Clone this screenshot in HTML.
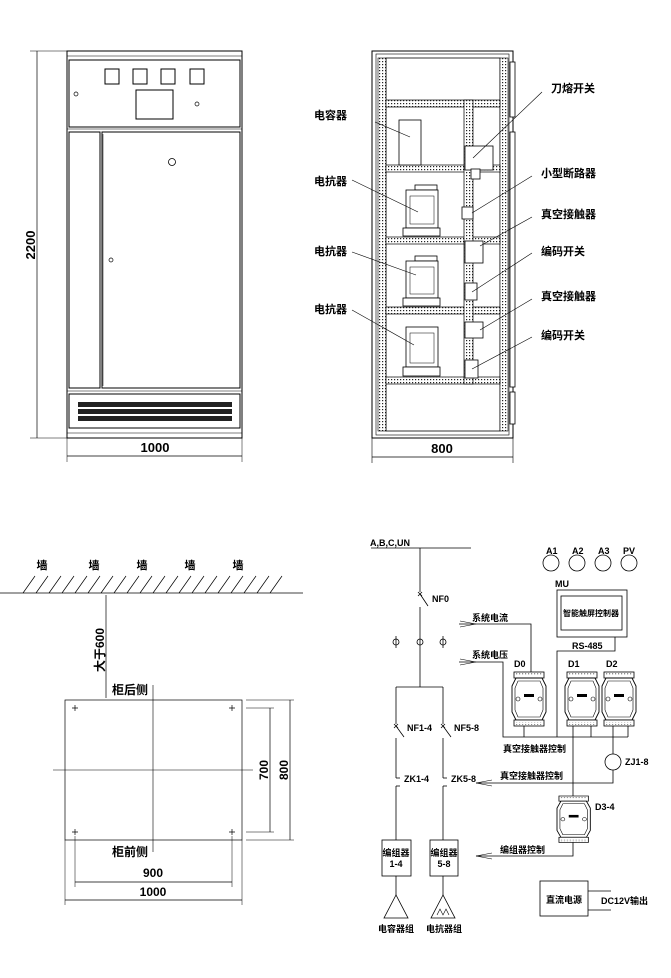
<!DOCTYPE html>
<html><head><meta charset="utf-8"><style>
html,body{margin:0;padding:0;background:#fff;}
svg{display:block;}
text{font-family:"Liberation Sans","Noto Sans CJK SC",sans-serif;fill:#000;}
</style></head><body>
<svg width="671" height="978" viewBox="0 0 671 978" xmlns="http://www.w3.org/2000/svg">
<defs>
<pattern id="perf" width="3" height="3" patternUnits="userSpaceOnUse"><rect width="3" height="3" fill="#fff"/><rect x="1" y="1" width="1.2" height="1.2" fill="#222"/></pattern>
<marker id="ar" markerWidth="8" markerHeight="6" refX="8" refY="3" orient="auto" markerUnits="userSpaceOnUse"><path d="M0,0 L8,3 L0,6" fill="none" stroke="#000" stroke-width="0.8"/></marker>
<g id="mod">
<rect x="2" y="0" width="30" height="6" fill="#fff" stroke="#000" stroke-width="0.8"/>
<rect x="3" y="1.5" width="28" height="2.5" fill="url(#perf)"/>
<path d="M4,6 L30,6 L34,14 L34,40 L30,48 L4,48 L0,40 L0,14 Z" fill="#fff" stroke="#000" stroke-width="0.9"/>
<path d="M6,9 L28,9 L31,16 L31,38 L28,45 L6,45 L3,38 L3,16 Z" fill="none" stroke="#000" stroke-width="0.6"/>
<rect x="12" y="22" width="10" height="3" fill="#000"/>
<circle cx="6" cy="27" r="2" fill="none" stroke="#000" stroke-width="0.6"/>
<circle cx="28" cy="27" r="2" fill="none" stroke="#000" stroke-width="0.6"/>
<rect x="2" y="48" width="30" height="6" fill="#fff" stroke="#000" stroke-width="0.8"/>
<rect x="3" y="50" width="28" height="2.5" fill="url(#perf)"/>
</g>
</defs>
<g fill="none" stroke="#000" stroke-width="1">
<!-- FRONT VIEW -->
<rect x="67" y="51" width="175" height="387"/>
<rect x="69" y="60" width="171" height="67"/>
<line x1="67" y1="56" x2="242" y2="56" stroke-width="0.6"/>
<line x1="67" y1="129" x2="242" y2="129" stroke-width="0.6"/>
<rect x="69" y="132" width="31" height="256"/>
<rect x="102" y="132" width="138" height="256"/>
<line x1="103" y1="134" x2="103" y2="386" stroke-width="0.5"/>
<line x1="67" y1="391" x2="242" y2="391" stroke-width="0.6"/>
<rect x="69" y="394" width="171" height="34"/>
<line x1="67" y1="433" x2="242" y2="433" stroke-width="0.6"/>
<rect x="105" y="69" width="14" height="15"/><rect x="133" y="69" width="14" height="15"/>
<rect x="161" y="69" width="14" height="15"/><rect x="190" y="69" width="14" height="15"/>
<rect x="136" y="90" width="37" height="29"/>
<circle cx="76" cy="94" r="2" stroke-width="0.7"/>
<circle cx="197" cy="104" r="2" stroke-width="0.7"/>
<circle cx="172" cy="162" r="3.5" stroke-width="0.8"/>
<circle cx="111" cy="260" r="2" stroke-width="0.7"/>
<line x1="37" y1="51" x2="37" y2="438" stroke-width="0.7"/>
<line x1="30" y1="51" x2="67" y2="51" stroke-width="0.5"/>
<line x1="30" y1="438" x2="67" y2="438" stroke-width="0.5"/>
<line x1="67" y1="456" x2="242" y2="456" stroke-width="0.7"/>
<line x1="67" y1="438" x2="67" y2="462" stroke-width="0.5"/>
<line x1="242" y1="438" x2="242" y2="462" stroke-width="0.5"/>
</g>
<g fill="#222">
<rect x="78" y="402" width="154" height="5"/><rect x="78" y="409" width="154" height="5"/><rect x="78" y="416" width="154" height="5"/>
</g>
<text x="35" y="245" font-size="13" font-weight="bold" transform="rotate(-90 35 245)" text-anchor="middle">2200</text>
<text x="155" y="452" font-size="13" font-weight="bold" text-anchor="middle">1000</text>

<!-- INTERIOR VIEW -->
<g fill="none" stroke="#000" stroke-width="1">
<rect x="372" y="51" width="141" height="387"/>
<rect x="376" y="54" width="133" height="381" stroke-width="0.6"/>
<rect x="386" y="58" width="114" height="373" stroke-width="0.8"/>
</g>
<rect x="378" y="58" width="8" height="373" fill="url(#perf)" stroke="#000" stroke-width="0.6"/>
<rect x="500" y="58" width="8" height="373" fill="url(#perf)" stroke="#000" stroke-width="0.6"/>
<g stroke="#000" stroke-width="0.7">
<rect x="386" y="100" width="114" height="7" fill="url(#perf)"/>
<rect x="386" y="165" width="114" height="7" fill="url(#perf)"/>
<rect x="386" y="237" width="114" height="7" fill="url(#perf)"/>
<rect x="386" y="307" width="114" height="7" fill="url(#perf)"/>
<rect x="386" y="377" width="114" height="7" fill="url(#perf)"/>
<rect x="464" y="100" width="9" height="284" fill="url(#perf)"/>
</g>
<g fill="#fff" stroke="#000" stroke-width="0.8">
<rect x="510" y="62" width="5" height="55"/><rect x="510" y="132" width="5" height="255"/><rect x="510" y="392" width="5" height="32"/>
<rect x="399" y="120" width="22" height="45"/>
<rect x="465" y="146" width="28" height="24"/>
<rect x="471" y="169" width="9" height="10"/>
<g id="reac">
<rect x="415" y="185" width="22" height="5"/>
<rect x="406" y="190" width="32" height="38"/>
<rect x="410" y="196" width="24" height="28" stroke-width="0.5"/>
<rect x="403" y="228" width="37" height="8"/>
</g>
<rect x="415" y="256" width="22" height="5"/><rect x="406" y="261" width="32" height="37"/><rect x="410" y="267" width="24" height="27" stroke-width="0.5"/><rect x="403" y="298" width="37" height="8"/>
<rect x="406" y="327" width="32" height="40"/><rect x="410" y="333" width="24" height="30" stroke-width="0.5"/><rect x="403" y="367" width="37" height="9"/>
<rect x="462" y="207" width="11" height="12"/>
<rect x="465" y="241" width="18" height="22"/>
<rect x="465" y="283" width="12" height="17"/>
<rect x="465" y="322" width="18" height="16"/>
<rect x="465" y="360" width="13" height="18"/>
</g>
<g stroke="#000" stroke-width="0.6">
<line x1="375" y1="122" x2="410" y2="137"/>
<line x1="352" y1="180" x2="418" y2="212"/>
<line x1="352" y1="252" x2="416" y2="275"/>
<line x1="352" y1="310" x2="414" y2="345"/>
<line x1="542" y1="92" x2="473" y2="158"/>
<line x1="532" y1="176" x2="472" y2="213"/>
<line x1="532" y1="217" x2="480" y2="246"/>
<line x1="532" y1="253" x2="472" y2="292"/>
<line x1="532" y1="299" x2="480" y2="330"/>
<line x1="532" y1="337" x2="472" y2="369"/>
<line x1="372" y1="457" x2="513" y2="457" stroke-width="0.7"/>
<line x1="372" y1="438" x2="372" y2="463"/><line x1="513" y1="438" x2="513" y2="463"/>
</g>
<g font-size="11" font-weight="bold">
<text x="314" y="119">电容器</text>
<text x="314" y="185">电抗器</text>
<text x="314" y="255">电抗器</text>
<text x="314" y="313">电抗器</text>
<text x="551" y="92">刀熔开关</text>
<text x="541" y="177">小型断路器</text>
<text x="541" y="218">真空接触器</text>
<text x="541" y="255">编码开关</text>
<text x="541" y="300">真空接触器</text>
<text x="541" y="339">编码开关</text>
</g>
<text x="442" y="453" font-size="13" font-weight="bold" text-anchor="middle">800</text>

<!-- LAYOUT PLAN -->
<g stroke="#000" fill="none">
<line x1="0" y1="593" x2="303" y2="593" stroke-width="0.8"/>
<path d="M23,593 l12,-17 M36,593 l12,-17 M49,593 l12,-17 M62,593 l12,-17 M75,593 l12,-17 M88,593 l12,-17 M101,593 l12,-17 M114,593 l12,-17 M127,593 l12,-17 M140,593 l12,-17 M153,593 l12,-17 M166,593 l12,-17 M179,593 l12,-17 M192,593 l12,-17 M205,593 l12,-17 M218,593 l12,-17 M231,593 l12,-17 M244,593 l12,-17 M257,593 l12,-17 M270,593 l12,-17" stroke-width="0.7"/>
<line x1="106" y1="595" x2="106" y2="698" stroke-width="0.7"/>
<rect x="65" y="700" width="177" height="140" stroke-width="0.7"/>
<line x1="153" y1="685" x2="153" y2="852" stroke-width="0.6"/>
<line x1="53" y1="770" x2="253" y2="770" stroke-width="0.6"/>
<path d="M72,708 h6 M75,705 v6 M229,708 h6 M232,705 v6 M72,832 h6 M75,829 v6 M229,832 h6 M232,829 v6" stroke-width="0.7"/>
<line x1="246" y1="708" x2="274" y2="708" stroke-width="0.5"/><line x1="246" y1="832" x2="274" y2="832" stroke-width="0.5"/>
<line x1="246" y1="700" x2="294" y2="700" stroke-width="0.5"/><line x1="246" y1="840" x2="294" y2="840" stroke-width="0.5"/>
<line x1="270" y1="708" x2="270" y2="832" stroke-width="0.7"/>
<line x1="290" y1="700" x2="290" y2="840" stroke-width="0.7"/>
<line x1="75" y1="836" x2="75" y2="887" stroke-width="0.5"/><line x1="232" y1="836" x2="232" y2="887" stroke-width="0.5"/>
<line x1="65" y1="840" x2="65" y2="905" stroke-width="0.5"/><line x1="242" y1="840" x2="242" y2="905" stroke-width="0.5"/>
<line x1="75" y1="882" x2="232" y2="882" stroke-width="0.7"/>
<line x1="65" y1="900" x2="242" y2="900" stroke-width="0.7"/>
</g>
<g font-size="11" font-weight="bold" text-anchor="middle">
<text x="42" y="569">墙</text><text x="94" y="569">墙</text><text x="142" y="569">墙</text><text x="190" y="569">墙</text><text x="238" y="569">墙</text>
</g>
<text x="104" y="650" font-size="12" font-weight="bold" text-anchor="middle" transform="rotate(-90 104 650)">大于600</text>
<text x="130" y="694" font-size="12" font-weight="bold" text-anchor="middle">柜后侧</text>
<text x="130" y="856" font-size="12" font-weight="bold" text-anchor="middle">柜前侧</text>
<text x="268" y="770" font-size="12" font-weight="bold" text-anchor="middle" transform="rotate(-90 268 770)">700</text>
<text x="288" y="770" font-size="12" font-weight="bold" text-anchor="middle" transform="rotate(-90 288 770)">800</text>
<text x="153" y="877" font-size="12" font-weight="bold" text-anchor="middle">900</text>
<text x="153" y="896" font-size="12" font-weight="bold" text-anchor="middle">1000</text>

<!-- SCHEMATIC -->
<g stroke="#000" fill="none" stroke-width="0.8">
<line x1="371" y1="548" x2="471" y2="548"/>
<line x1="420" y1="548" x2="420" y2="592"/>
<path d="M418,592 l4,4 M422,592 l-4,4"/>
<line x1="420" y1="594" x2="428" y2="606"/>
<line x1="420" y1="607" x2="420" y2="687"/>
<circle cx="396" cy="642" r="3"/><line x1="396" y1="636" x2="396" y2="648"/>
<circle cx="420" cy="642" r="3"/>
<circle cx="443" cy="642" r="3"/><line x1="443" y1="636" x2="443" y2="648"/>
<line x1="396" y1="687" x2="443" y2="687"/>
<line x1="396" y1="687" x2="396" y2="724"/><line x1="443" y1="687" x2="443" y2="724"/>
<path d="M394,724 l4,4 M398,724 l-4,4 M441,724 l4,4 M445,724 l-4,4"/>
<line x1="396" y1="726" x2="404" y2="737"/><line x1="443" y1="726" x2="451" y2="737"/>
<line x1="396" y1="738" x2="396" y2="778"/><line x1="443" y1="738" x2="443" y2="778"/>
<line x1="396" y1="778" x2="400" y2="778"/><line x1="443" y1="778" x2="447" y2="778"/>
<line x1="396" y1="786" x2="400" y2="786"/><line x1="443" y1="786" x2="447" y2="786"/>
<line x1="396" y1="786" x2="396" y2="840"/><line x1="443" y1="786" x2="443" y2="840"/>
<rect x="382" y="840" width="29" height="36"/>
<rect x="430" y="840" width="28" height="36"/>
<line x1="396" y1="876" x2="396" y2="895"/><line x1="443" y1="876" x2="443" y2="895"/>
<path d="M396,895 L384,918 L408,918 Z"/>
<path d="M443,895 L431,918 L455,918 Z"/>
<path d="M437,915 l3,-6 l3,6 l3,-6 l3,6" stroke-width="0.6"/>
<circle cx="551" cy="563" r="8"/><circle cx="577" cy="563" r="8"/><circle cx="603" cy="563" r="8"/><circle cx="629" cy="563" r="8"/>
<rect x="557" y="590" width="70" height="47"/>
<rect x="561" y="596" width="61" height="34"/>
<polyline points="615,637 615,651 557,651 557,737"/>
<polyline points="459,624 531,624 531,672"/>
<polyline points="459,662 503,662 503,737 628,737"/>
<line x1="524" y1="725" x2="524" y2="737"/>
<line x1="573" y1="725" x2="573" y2="796"/>
<line x1="591" y1="725" x2="591" y2="737"/>
<line x1="613" y1="725" x2="613" y2="754"/>
<line x1="628" y1="725" x2="628" y2="737"/>
<circle cx="613" cy="762" r="8"/>
<polyline points="613,770 613,783 476,783"/>
<polyline points="573,842 573,856 476,856"/>
<path d="M460,621 L476,624 L460,627 M460,659 L476,662 L460,665" stroke-width="0.6"/>
<path d="M492,780 L476,783 L492,786 M492,853 L476,856 L492,859" stroke-width="0.6"/>
<rect x="540" y="881" width="48" height="35"/>
<line x1="588" y1="891" x2="611" y2="891"/><line x1="588" y1="910" x2="611" y2="910"/>
</g>
<g transform="translate(512,672)"><use href="#mod"/></g>
<g transform="translate(565,672)"><use href="#mod"/></g>
<g transform="translate(602,672)"><use href="#mod"/></g>
<g transform="translate(557,796) scale(0.98,0.86)"><use href="#mod"/></g>
<g font-size="9" font-weight="bold">
<text x="370" y="546">A,B,C,UN</text>
<text x="432" y="602">NF0</text>
<text x="407" y="731">NF1-4</text>
<text x="454" y="731">NF5-8</text>
<text x="404" y="782">ZK1-4</text>
<text x="451" y="782">ZK5-8</text>
<text x="472" y="621">系统电流</text>
<text x="472" y="658">系统电压</text>
<text x="546" y="554">A1</text><text x="572" y="554">A2</text><text x="598" y="554">A3</text><text x="623" y="554">PV</text>
<text x="555" y="587">MU</text>
<text x="591" y="616" text-anchor="middle" font-size="8">智能触屏控制器</text>
<text x="572" y="649">RS-485</text>
<text x="514" y="667">D0</text><text x="568" y="667">D1</text><text x="606" y="667">D2</text>
<text x="503" y="752">真空接触器控制</text>
<text x="625" y="765">ZJ1-8</text>
<text x="500" y="779">真空接触器控制</text>
<text x="595" y="810">D3-4</text>
<text x="500" y="853">编组器控制</text>
<text x="396" y="856" text-anchor="middle">编组器</text><text x="396" y="867" text-anchor="middle">1-4</text>
<text x="444" y="856" text-anchor="middle">编组器</text><text x="444" y="867" text-anchor="middle">5-8</text>
<text x="396" y="932" text-anchor="middle">电容器组</text>
<text x="444" y="932" text-anchor="middle">电抗器组</text>
<text x="564" y="903" text-anchor="middle">直流电源</text>
<text x="601" y="904">DC12V输出</text>
</g>
</svg>
</body></html>
